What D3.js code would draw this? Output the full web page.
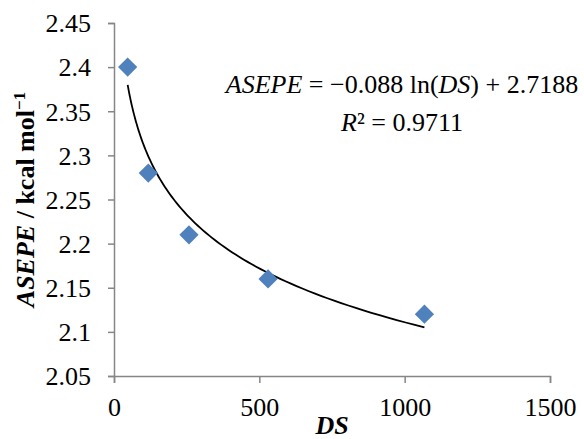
<!DOCTYPE html>
<html>
<head>
<meta charset="utf-8">
<script src="https://cdn.jsdelivr.net/npm/d3@7"></script>
</head>
<body style="margin:0; background:#fff">
<svg id="chart"></svg>
<script>
// data
const dsValues = [47, 118, 258, 530, 1068];
const asepeValues = [2.40, 2.28, 2.21, 2.16, 2.12];
const xTicks = [0, 500, 1000, 1500];
const yTicks = [2.05, 2.1, 2.15, 2.2, 2.25, 2.3, 2.35, 2.4, 2.45];
// trendline coefficients as printed on the chart
const fitSlope = -0.088;
const fitIntercept = 2.7188;

const width = 584, height = 439;
const margin = { top: 23, right: 34, bottom: 63, left: 114 };
const innerW = width - margin.left - margin.right;
const innerH = height - margin.top - margin.bottom;
const serif = "'Liberation Serif'";

const svg = d3.select("#chart")
    .attr("width", width)
    .attr("height", height);

const g = svg.append("g")
    .attr("transform", `translate(${margin.left}, ${margin.top})`);

const x = d3.scaleLinear().domain([0, 1500]).range([0, innerW]);
const y = d3.scaleLinear().domain([2.05, 2.45]).range([innerH, 0]);

const axisColor = "#868686";

// y axis
const yAxis = g.append("g")
    .call(d3.axisLeft(y).tickValues(yTicks).tickSize(6).tickPadding(17)
        .tickFormat(d => String(+d.toFixed(2))));
yAxis.attr("font-family", null).attr("font-size", null);
yAxis.select(".domain").attr("stroke", axisColor).attr("stroke-width", 1.5);
yAxis.selectAll(".tick line").attr("stroke", axisColor).attr("stroke-width", 1.5);
yAxis.selectAll(".tick text")
    .style("font-family", serif)
    .attr("font-size", "26px")
    .attr("dy", "0.34em");

// x axis
const xAxis = g.append("g")
    .attr("transform", `translate(0, ${innerH})`)
    .call(d3.axisBottom(x).tickValues(xTicks).tickSize(7).tickPadding(15)
        .tickFormat(d3.format("d")));
xAxis.attr("font-family", null).attr("font-size", null);
xAxis.select(".domain").attr("stroke", axisColor).attr("stroke-width", 1.5);
xAxis.selectAll(".tick line").attr("stroke", axisColor).attr("stroke-width", 1.5);
xAxis.selectAll(".tick text")
    .style("font-family", serif)
    .attr("font-size", "26px");

// log trendline from first to last DS value
const xMin = d3.min(dsValues), xMax = d3.max(dsValues);
const fitPts = d3.range(0, 101).map(i => {
    const v = xMin * Math.pow(xMax / xMin, i / 100);
    return [v, fitSlope * Math.log(v) + fitIntercept];
});
g.append("path")
    .datum(fitPts)
    .attr("fill", "none")
    .attr("stroke", "#000")
    .attr("stroke-width", 1.8)
    .attr("d", d3.line().x(d => x(d[0])).y(d => y(d[1])));

// diamond markers
const points = dsValues.map((d, i) => ({ ds: d, v: asepeValues[i] }));
g.selectAll("path.pt")
    .data(points)
    .join("path")
    .attr("class", "pt")
    .attr("d", d3.symbol().type(d3.symbolSquare).size(185))
    .attr("transform", d => `translate(${x(d.ds)}, ${y(d.v)}) rotate(45)`)
    .attr("fill", "#4F81BD");

// equation label
const eq = svg.append("text")
    .attr("x", 402).attr("y", 93)
    .attr("text-anchor", "middle")
    .style("font-family", serif)
    .attr("font-size", "26px");
eq.append("tspan").style("font-family", serif).attr("font-style", "italic").text("ASEPE");
eq.append("tspan").style("font-family", serif).text(" = \u22120.088 ln(");
eq.append("tspan").style("font-family", serif).attr("font-style", "italic").text("DS");
eq.append("tspan").style("font-family", serif).text(") + 2.7188");

const r2 = svg.append("text")
    .attr("x", 402).attr("y", 131)
    .attr("text-anchor", "middle")
    .style("font-family", serif)
    .attr("font-size", "26px");
r2.append("tspan").style("font-family", serif).attr("font-style", "italic").text("R");
r2.append("tspan").style("font-family", serif).text("\u00B2 = 0.9711");

// axis titles
svg.append("text")
    .attr("x", 332).attr("y", 434)
    .attr("text-anchor", "middle")
    .style("font-family", serif)
    .attr("font-size", "26px")
    .attr("font-weight", "bold")
    .attr("font-style", "italic")
    .text("DS");

const yt = svg.append("text")
    .attr("transform", `translate(34, ${margin.top + innerH / 2}) rotate(-90)`)
    .attr("text-anchor", "middle")
    .style("font-family", serif)
    .attr("font-size", "26px")
    .attr("font-weight", "bold");
yt.append("tspan").style("font-family", serif).attr("font-style", "italic").text("ASEPE");
yt.append("tspan").style("font-family", serif).text(" / kcal mol");
yt.append("tspan").style("font-family", serif).attr("font-size", "17px").attr("dy", "-9").text("\u22121");
</script>
</body>
</html>
